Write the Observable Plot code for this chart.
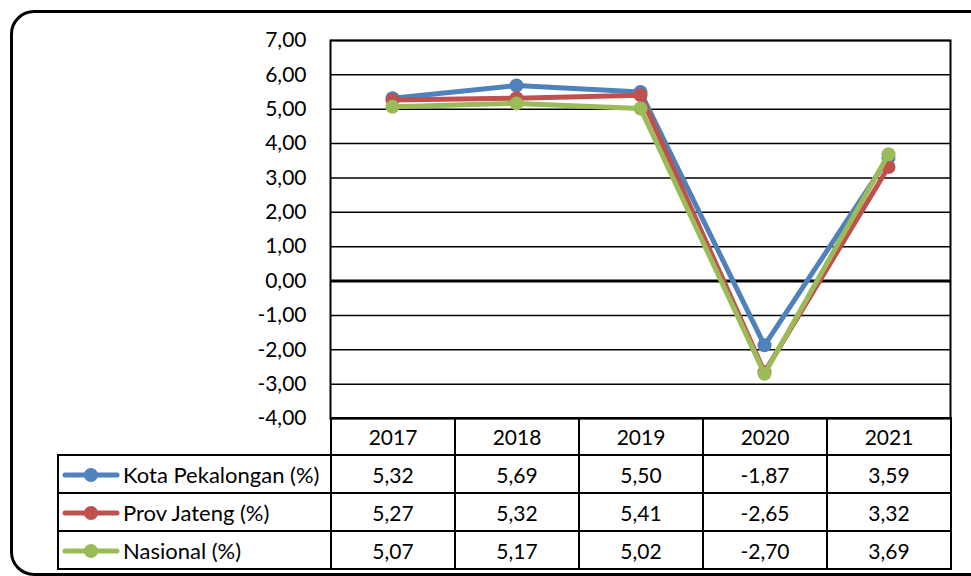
<!DOCTYPE html>
<html>
<head>
<meta charset="utf-8">
<script src="https://cdn.jsdelivr.net/npm/d3@7"></script>
<script src="https://cdn.jsdelivr.net/npm/@observablehq/plot@0.6"></script>
<style>
  html, body { margin: 0; padding: 0; background: #fff; }
  #wrap { position: relative; width: 971px; height: 576px; overflow: hidden; font-family: Lato, sans-serif; }
  #border { position: absolute; left: 10px; top: 10px; width: 990px; height: 560px; border: 3px solid #000; border-radius: 24px; }
  #chart { position: absolute; left: 0; top: 0; }
  #tbl { position: absolute; left: 57px; top: 417px; border-collapse: collapse; font-family: Lato, sans-serif; font-size: 21px; color: #000; }
  #tbl td { border: 2px solid #000; text-align: center; padding: 0; height: 36px; }
  #tbl td.lab { text-align: left; width: 271px; white-space: nowrap; font-size: 22px; }
  #tbl td.num { width: 122px; }
  #tbl tr.head td.blank { border: none; border-right: 2px solid #000; border-bottom: 2px solid #000; }
  #tbl tr.head td { height: 35px; }
  .sw { vertical-align: middle; margin-left: 3px; margin-right: 3px; position: relative; top: -2px; }
</style>
</head>
<body>
<div id="wrap">
  <div id="border"></div>
  <div id="chart"></div>
  <table id="tbl"></table>
</div>
<script>
const years = ["2017", "2018", "2019", "2020", "2021"];
const seriesNames = ["Kota Pekalongan (%)", "Prov Jateng (%)", "Nasional (%)"];
const kotaPekalongan = [5.32, 5.69, 5.50, -1.87, 3.59];
const provJateng = [5.27, 5.32, 5.41, -2.65, 3.32];
const nasional = [5.07, 5.17, 5.02, -2.70, 3.69];
const seriesColors = ["#4F81BD", "#C0504D", "#9BBB59"];
const yTicks = [-4, -3, -2, -1, 0, 1, 2, 3, 4, 5, 6, 7];

const seriesValues = [kotaPekalongan, provJateng, nasional];
const fmt = v => v.toFixed(2).replace(".", ",");

const data = seriesValues.flatMap((vals, s) =>
  vals.map((v, i) => ({ series: seriesNames[s], year: years[i], value: v, s })));

const lineMarks = [];
seriesNames.forEach((name, s) => {
  const d = data.filter(r => r.s === s);
  lineMarks.push(Plot.line(d, { x: "year", y: "value", stroke: seriesColors[s], strokeWidth: 5, strokeLinejoin: "round", strokeLinecap: "round" }));
  lineMarks.push(Plot.dot(d, { x: "year", y: "value", fill: seriesColors[s], r: 7, stroke: "none" }));
});

const chart = Plot.plot({
  width: 971,
  height: 420,
  marginTop: 40,
  marginBottom: 2,
  marginLeft: 330,
  marginRight: 21,
  x: { type: "point", domain: years, padding: 0.5, axis: null },
  y: { domain: [-4, 7], ticks: yTicks, tickFormat: fmt, tickSize: 0, tickPadding: 24, label: null },
  style: { fontFamily: "Lato, sans-serif", fontSize: "21px", color: "#000", background: "transparent", overflow: "visible" },
  marks: [
    Plot.ruleY(yTicks, { stroke: "#000", strokeWidth: 1.5 }),
    Plot.ruleY([0], { stroke: "#000", strokeWidth: 3 }),
    Plot.frame({ stroke: "#000", strokeWidth: 2 }),
    ...lineMarks
  ]
});
document.getElementById("chart").appendChild(chart);

// data table
const tbl = d3.select("#tbl");
const head = tbl.append("tr").attr("class", "head");
head.append("td").attr("class", "lab blank");
years.forEach(y => head.append("td").attr("class", "num").text(y));
seriesNames.forEach((name, s) => {
  const tr = tbl.append("tr");
  const lab = tr.append("td").attr("class", "lab");
  const sw = lab.append("svg").attr("class", "sw").attr("width", 58).attr("height", 20);
  sw.append("line").attr("x1", 3).attr("x2", 55).attr("y1", 10).attr("y2", 10)
    .attr("stroke", seriesColors[s]).attr("stroke-width", 5).attr("stroke-linecap", "round");
  sw.append("circle").attr("cx", 29).attr("cy", 10).attr("r", 7).attr("fill", seriesColors[s]);
  lab.append("span").text(name);
  seriesValues[s].forEach(v => tr.append("td").attr("class", "num").text(fmt(v)));
});
</script>
</body>
</html>
